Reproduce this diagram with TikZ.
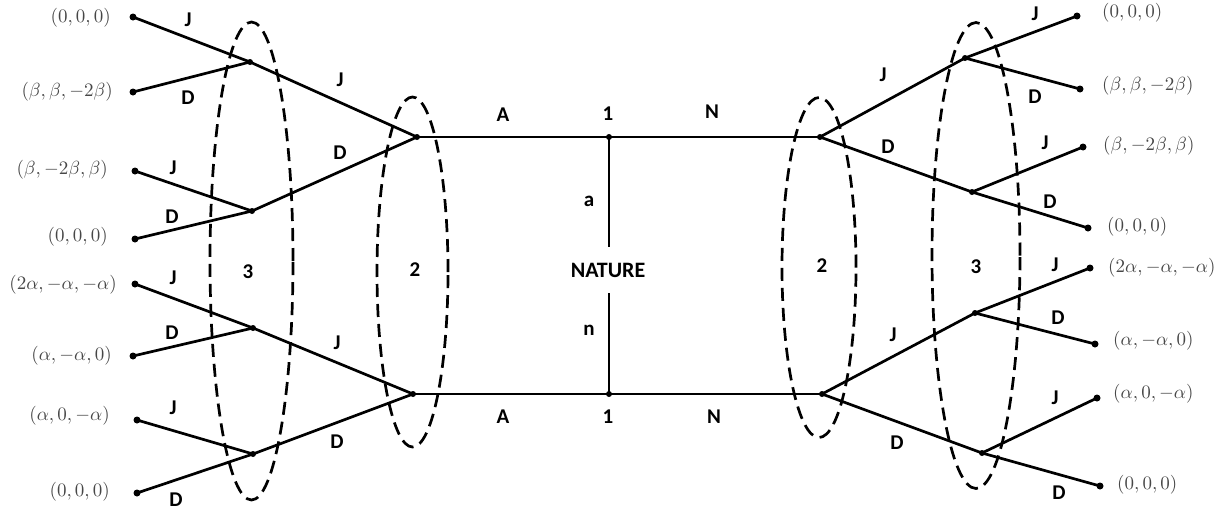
\documentclass[tikz,border=0pt]{standalone}
\usepackage{graphicx}
\usepackage{fontspec}
\newfontfamily\labfont{Carlito}
\newcommand{\pf}[1]{\scalebox{1.9}{$#1$}}
\begin{document}
\begin{tikzpicture}[x=1pt,y=-1pt,
  edge/.style={line width=2.7pt},
  dot/.style={circle,fill,inner sep=0pt,minimum size=7pt},
  jdot/.style={circle,fill,inner sep=0pt,minimum size=6pt},
  oval/.style={line width=2.7pt,dash pattern=on 13pt off 7pt},
  lab/.style={font=\labfont\bfseries\fontsize{21}{21}\selectfont,inner sep=0pt},
  pay/.style={text=black!72,inner sep=0pt}]
\useasboundingbox (0,0) rectangle (1231,515);

% ---------- left leaves ----------
\node[dot] (lA) at (133,17) {};
\node[dot] (lB) at (133,92) {};
\node[dot] (lC) at (135,171) {};
\node[dot] (lD) at (135,239) {};
\node[dot] (lE) at (135,284) {};
\node[dot] (lF) at (133,356) {};
\node[dot] (lG) at (137,420) {};
\node[dot] (lH) at (137,493) {};
% ---------- left junctions ----------
\node[jdot] (m1) at (250,62) {};
\node[jdot] (m2) at (252,211) {};
\node[jdot] (m3) at (253,328) {};
\node[jdot] (m4) at (253,454) {};
\node[jdot] (n1) at (417,137) {};
\node[jdot] (n2) at (413,394) {};
% ---------- nature ----------
\node[jdot] (t) at (609,137) {};
\node[jdot] (b) at (609,394) {};
\node[lab,font=\labfont\bfseries\fontsize{22}{22}\selectfont,minimum height=46pt] (nat) at (608,270) {NATURE};
% ---------- right junctions ----------
\node[jdot] (r1) at (820,137) {};
\node[jdot] (r2) at (822,394) {};
\node[jdot] (s1) at (965,58) {};
\node[jdot] (s2) at (972,192) {};
\node[jdot] (s3) at (975,313) {};
\node[jdot] (s4) at (982,453) {};
% ---------- right leaves ----------
\node[dot] (rA) at (1077,16) {};
\node[dot] (rB) at (1080,89) {};
\node[dot] (rC) at (1083,147) {};
\node[dot] (rD) at (1088,228) {};
\node[dot] (rE) at (1090,268) {};
\node[dot] (rF) at (1095,344) {};
\node[dot] (rG) at (1097,398) {};
\node[dot] (rH) at (1100,486) {};

% ---------- edges ----------
\draw[edge] (lA.center) -- (m1.center);
\draw[edge] (lB.center) -- (m1.center);
\draw[edge] (lC.center) -- (m2.center);
\draw[edge] (lD.center) -- (m2.center);
\draw[edge] (lE.center) -- (m3.center);
\draw[edge] (lF.center) -- (m3.center);
\draw[edge] (lG.center) -- (m4.center);
\draw[edge] (lH.center) -- (m4.center);
\draw[edge] (m1.center) -- (n1.center);
\draw[edge] (m2.center) -- (n1.center);
\draw[edge] (m3.center) -- (n2.center);
\draw[edge] (m4.center) -- (n2.center);
\draw[edge] (n1.center) -- (t.center) -- (r1.center);
\draw[edge] (n2.center) -- (b.center) -- (r2.center);
\draw[edge] (t.center) -- (t |- nat.north);
\draw[edge] (b |- nat.south) -- (b.center);
\draw[edge] (r1.center) -- (s1.center);
\draw[edge] (r1.center) -- (s2.center);
\draw[edge] (r2.center) -- (s3.center);
\draw[edge] (r2.center) -- (s4.center);
\draw[edge] (s1.center) -- (rA.center);
\draw[edge] (s1.center) -- (rB.center);
\draw[edge] (s2.center) -- (rC.center);
\draw[edge] (s2.center) -- (rD.center);
\draw[edge] (s3.center) -- (rE.center);
\draw[edge] (s3.center) -- (rF.center);
\draw[edge] (s4.center) -- (rG.center);
\draw[edge] (s4.center) -- (rH.center);

% ---------- information sets ----------
\draw[oval] (251.5,261) ellipse [x radius=41.5pt, y radius=239pt];
\draw[oval] (412.5,272) ellipse [x radius=35.5pt, y radius=175pt];
\draw[oval] (819,267.5) ellipse [x radius=37pt, y radius=170pt];
\draw[oval] (976,255.5) ellipse [x radius=44pt, y radius=233pt];

% ---------- payoffs left ----------
\node[pay,anchor=east] (plA) at (111,18) {\pf{(0,0,0)}};
\node[pay,anchor=east] (plB) at (113,92) {\pf{(\beta,\beta,-2\beta)}};
\node[pay,anchor=east] (plC) at (108,170) {\pf{(\beta,-2\beta,\beta)}};
\node[pay,anchor=east] (plD) at (108,237) {\pf{(0,0,0)}};
\node[pay,anchor=east] (plE) at (117,285) {\pf{(2\alpha,-\alpha,-\alpha)}};
\node[pay,anchor=east] (plF) at (112,356) {\pf{(\alpha,-\alpha,0)}};
\node[pay,anchor=east] (plG) at (110,416) {\pf{(\alpha,0,-\alpha)}};
\node[pay,anchor=east] (plH) at (110,492) {\pf{(0,0,0)}};
% ---------- payoffs right ----------
\node[pay,anchor=west] (prA) at (1102,13) {\pf{(0,0,0)}};
\node[pay,anchor=west] (prB) at (1102,86) {\pf{(\beta,\beta,-2\beta)}};
\node[pay,anchor=west] (prC) at (1103,146) {\pf{(\beta,-2\beta,\beta)}};
\node[pay,anchor=west] (prD) at (1107,227) {\pf{(0,0,0)}};
\node[pay,anchor=west] (prE) at (1108,268) {\pf{(2\alpha,-\alpha,-\alpha)}};
\node[pay,anchor=west] (prF) at (1113,341) {\pf{(\alpha,-\alpha,0)}};
\node[pay,anchor=west] (prG) at (1113,394) {\pf{(\alpha,0,-\alpha)}};
\node[pay,anchor=west] (prH) at (1117,485) {\pf{(0,0,0)}};

% ---------- action labels left ----------
\node[lab] (a1) at (188,20) {J};
\node[lab] (a2) at (188,98) {D};
\node[lab] (a3) at (340,80) {J};
\node[lab] (a4) at (340,153) {D};
\node[lab] (a5) at (173,168) {J};
\node[lab] (a6) at (172,217) {D};
\node[lab] (a7) at (173,278) {J};
\node[lab] (a8) at (172,333) {D};
\node[lab] (a9) at (337,343) {J};
\node[lab] (a10) at (173,408) {J};
\node[lab] (a11) at (337,442) {D};
\node[lab] (a12) at (176,500) {D};
\node[lab] (i3l) at (248,272) {3};
\node[lab] (i2l) at (415,270) {2};
% ---------- centre labels ----------
\node[lab] (c1) at (503,115) {A};
\node[lab] (c2) at (608,114) {1};
\node[lab] (c3) at (712,112) {N};
\node[lab] (c4) at (503,417) {A};
\node[lab] (c5) at (608,417) {1};
\node[lab] (c6) at (714,417) {N};
\node[lab] (c7) at (589,201) {a};
\node[lab] (c8) at (589,330) {n};
% ---------- action labels right ----------
\node[lab] (b1) at (1035,14) {J};
\node[lab] (b2) at (883,75) {J};
\node[lab] (b3) at (1035,97) {D};
\node[lab] (b4) at (888,147) {D};
\node[lab] (b5) at (1045,143) {J};
\node[lab] (b6) at (1050,202) {D};
\node[lab] (b7) at (1055,265) {J};
\node[lab] (b8) at (1058,318) {D};
\node[lab] (b9) at (893,335) {J};
\node[lab] (b10) at (1055,398) {J};
\node[lab] (b11) at (897,443) {D};
\node[lab] (b12) at (1059,493) {D};
\node[lab] (i2r) at (822,266) {2};
\node[lab] (i3r) at (976,267) {3};
\end{tikzpicture}
\end{document}
